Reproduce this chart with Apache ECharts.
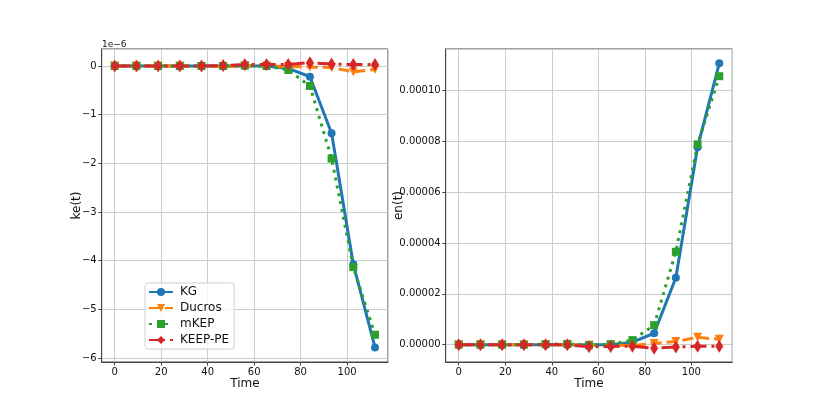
<!DOCTYPE html>
<html>
<head>
<meta charset="utf-8">
<script src="https://cdn.jsdelivr.net/npm/echarts@6/dist/echarts.min.js"></script>
<style>
  html, body { margin: 0; padding: 0; background: #fff; }
  #chart { width: 814px; height: 407px; }
</style>
</head>
<body>
<div id="chart"></div>
<script>
// time samples
const times = [0, 9.33, 18.67, 28, 37.33, 46.67, 56, 65.33, 74.67, 84, 93.33, 102.67, 112];

// ke(t), in units of 1e-6
const keKG     = [0, 0, 0, 0, 0, 0, 0, 0, -0.05, -0.22, -1.38, -4.07, -5.78];
const keDucros = [0, 0, 0, 0, -0.01, -0.01, 0, 0, -0.01, -0.02, -0.03, -0.12, -0.07];
const keMKEP   = [0, 0, 0, 0, 0, 0, 0.01, 0, -0.08, -0.41, -1.9, -4.13, -5.52];
const keKEEPPE = [0, 0, 0, 0, 0, 0.01, 0.03, 0.03, 0.03, 0.07, 0.04, 0.03, 0.03];

// en(t), in units of 1e-5
const enKG     = [0, 0, 0, 0, 0, 0, 0, 0, 0.1, 0.45, 2.63, 7.76, 11.06];
const enDucros = [0, 0, 0, 0, 0, 0, -0.02, -0.02, -0.03, 0.05, 0.13, 0.29, 0.21];
const enMKEP   = [0, 0, 0, 0, 0.02, 0.03, -0.02, 0.02, 0.18, 0.77, 3.65, 7.87, 10.55];
const enKEEPPE = [0, 0, 0, 0, 0, 0, -0.08, -0.07, -0.06, -0.14, -0.09, -0.06, -0.06];

const names = ['KG', 'Ducros', 'mKEP', 'KEEP-PE'];

const chart = echarts.init(document.getElementById('chart'));

const txt = '#111';
const font = 'DejaVu Sans';

function pairs(vals) {
  return times.map((t, i) => [t, vals[i]]);
}

function styleFor(k) {
  const s = [
    { color: '#1f77b4', type: 'solid', symbol: 'circle', size: 8 },
    { color: '#ff7f0e', type: [11, 5], symbol: 'path://M0,0 L10,0 L5,9 Z', size: 9 },
    { color: '#2ca02c', type: [3, 5], symbol: 'rect', size: 8 },
    { color: '#d62728', type: [16, 5, 3, 5], symbol: 'diamond', size: [8, 13] }
  ][k];
  return s;
}

function makeSeries(vals, k, axisIdx) {
  const s = styleFor(k);
  return {
    name: names[k],
    type: 'line',
    xAxisIndex: axisIdx,
    yAxisIndex: axisIdx,
    data: pairs(vals),
    symbol: s.symbol,
    symbolSize: s.size,
    showAllSymbol: true,
    animation: false,
    z: 2 + k,
    itemStyle: { color: s.color },
    lineStyle: { color: s.color, width: 3, type: s.type }
  };
}

function xAxisFor(idx) {
  return {
    type: 'value',
    gridIndex: idx,
    min: -5.6,
    max: 117.6,
    splitNumber: 6,
    name: 'Time',
    nameLocation: 'middle',
    nameGap: 16,
    nameMoveOverlap: false,
    nameTextStyle: { color: txt, fontSize: 12, fontFamily: font },
    axisLine: { show: true, onZero: false, lineStyle: { color: '#444', width: 1 } },
    axisTick: { show: true, length: 3.5, lineStyle: { color: '#444' } },
    axisLabel: { color: txt, fontSize: 10, fontFamily: font, margin: 5, showMinLabel: false, showMaxLabel: false },
    splitLine: { show: true, lineStyle: { color: '#cccccc', width: 1 } }
  };
}

const minus = v => (v < 0 ? '\u2212' + Math.abs(v) : String(v));

chart.setOption({
  backgroundColor: '#fff',
  textStyle: { fontFamily: font },
  grid: [
    { left: 101.7, top: 49, width: 286.3, height: 313, show: true, borderColor: '#444', borderWidth: 1, backgroundColor: 'transparent' },
    { left: 445.7, top: 49, width: 286.6, height: 313, show: true, borderColor: '#444', borderWidth: 1, backgroundColor: 'transparent' }
  ],
  xAxis: [xAxisFor(0), xAxisFor(1)],
  yAxis: [
    {
      type: 'value',
      gridIndex: 0,
      min: -6.08,
      max: 0.35,
      splitNumber: 6,
      name: 'ke(t)',
      nameLocation: 'middle',
      nameGap: 19,
      nameMoveOverlap: false,
      nameTextStyle: { color: txt, fontSize: 12, fontFamily: font },
      axisLine: { show: true, onZero: false, lineStyle: { color: '#444' } },
      axisTick: { show: true, length: 3.5, lineStyle: { color: '#444' } },
      axisLabel: { color: txt, fontSize: 10, fontFamily: font, margin: 5, showMinLabel: false, showMaxLabel: false, formatter: minus },
      splitLine: { show: true, lineStyle: { color: '#cccccc', width: 1 } }
    },
    {
      type: 'value',
      gridIndex: 1,
      min: -0.68,
      max: 11.62,
      splitNumber: 6,
      name: 'en(t)',
      nameLocation: 'middle',
      nameGap: 41,
      nameMoveOverlap: false,
      nameTextStyle: { color: txt, fontSize: 12, fontFamily: font },
      axisLine: { show: true, onZero: false, lineStyle: { color: '#444' } },
      axisTick: { show: true, length: 3.5, lineStyle: { color: '#444' } },
      axisLabel: { color: txt, fontSize: 10, fontFamily: font, margin: 5, showMinLabel: false, showMaxLabel: false,
        formatter: v => (v * 1e-5).toFixed(5) },
      splitLine: { show: true, lineStyle: { color: '#cccccc', width: 1 } }
    }
  ],
  legend: {
    data: names,
    orient: 'vertical',
    left: 145,
    top: 283,
    itemWidth: 24,
    itemHeight: 10,
    itemGap: 4,
    padding: [3, 5, 3, 3],
    backgroundColor: 'rgba(255,255,255,0.8)',
    borderColor: '#d0d0d0',
    borderWidth: 1,
    borderRadius: 3,
    textStyle: { color: txt, fontSize: 12, fontFamily: font, padding: [0, 0, 0, 2] }
  },
  graphic: [
    { type: 'text', left: 102, top: 40, style: { text: '1e\u22126', fontSize: 9, fontFamily: font, fill: txt } }
  ],
  series: [
    makeSeries(keKG, 0, 0),
    makeSeries(keDucros, 1, 0),
    makeSeries(keMKEP, 2, 0),
    makeSeries(keKEEPPE, 3, 0),
    makeSeries(enKG, 0, 1),
    makeSeries(enDucros, 1, 1),
    makeSeries(enMKEP, 2, 1),
    makeSeries(enKEEPPE, 3, 1)
  ]
});
</script>
</body>
</html>
